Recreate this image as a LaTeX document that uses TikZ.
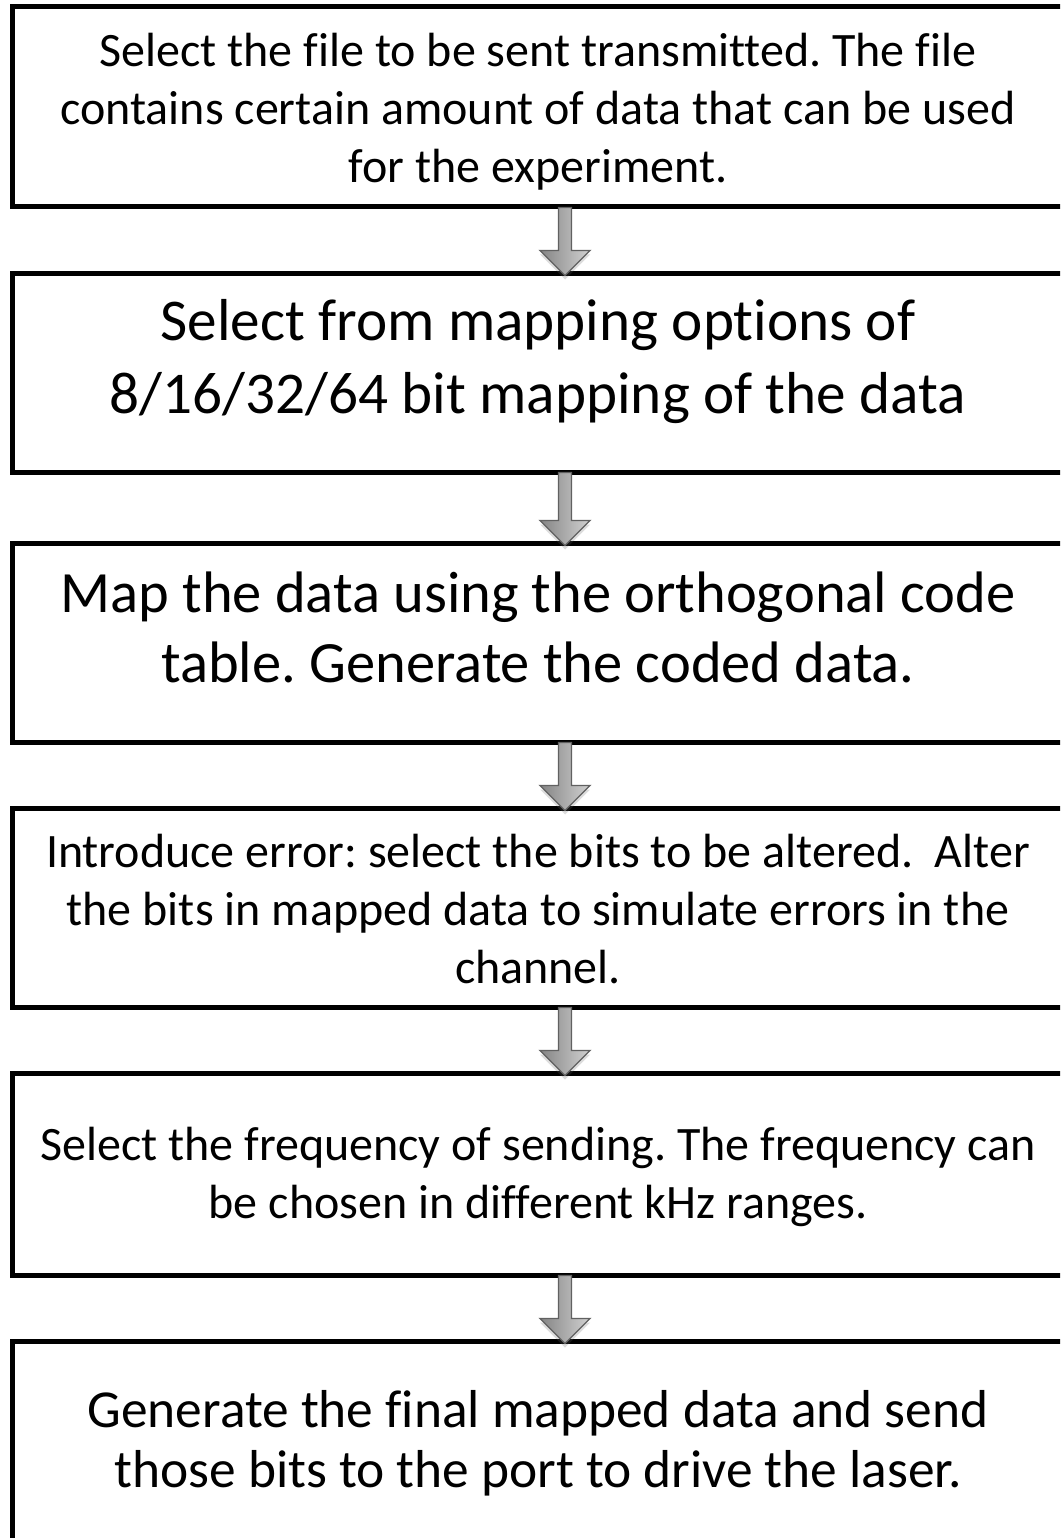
\documentclass[tikz,border=0pt]{standalone}
\usepackage{fontspec}
\setmainfont{Carlito}[Ligatures=NoCommon]
\usetikzlibrary{calc,shadows}
\tikzset{
  flowbox/.style={draw=black, line width=5pt, fill=white, minimum width=1052pt, inner sep=0pt},
  txt/.style={align=center, inner sep=0pt, text=black},
  fatarrow/.style={draw=black!62, line width=1.3pt, line join=miter,
    left color=black!48, right color=black!18,
    drop shadow={shadow xshift=0pt, shadow yshift=-4pt, opacity=0.22, fill=black!60}},
}
\newcommand\flowarrow[2]{%
  \path let \p1=(#1.south), \p2=(#2.north) in
    [fatarrow] (\x1+20.5pt,\y1+2pt) -- (\x1+33.5pt,\y1+2pt) -- (\x1+33.5pt,\y2+20pt)
    -- (\x1+52pt,\y2+20pt) -- (\x1+27pt,\y2-5pt) -- (\x1+2pt,\y2+20pt)
    -- (\x1+20.5pt,\y2+20pt) -- cycle;}
\begin{document}
\frenchspacing
\begin{tikzpicture}[x=1pt,y=-1pt]
\useasboundingbox (0,0) rectangle (1060,1538);
\clip (0,0) rectangle (1060,1538);
\fill[white] (0,0) rectangle (1060,1538);
% boxes
\node[flowbox, minimum height=200pt] (b1) at (538,107) {};
\node[flowbox, minimum height=199pt] (b2) at (538,372.5) {};
\node[flowbox, minimum height=199pt] (b3) at (538,642.5) {};
\node[flowbox, minimum height=199pt] (b4) at (538,907.5) {};
\node[flowbox, minimum height=202pt] (b5) at (538,1174) {};
\node[flowbox, minimum height=220pt] (b6) at (538,1451) {};
% texts
\node[txt, font=\frenchspacing\fontsize{48}{58}\selectfont] (t1) at (538,112)
  {Select the file to be sent transmitted. The file\\contains certain amount of data that can be used\\for the experiment.};
\node[txt, font=\frenchspacing\fontsize{59.2}{73}\selectfont] (t2) at (538,362)
  {Select from mapping options of\\8/16/32/64 bit mapping of the data};
\node[txt, font=\frenchspacing\fontsize{58.5}{70}\selectfont] (t3) at (538,627)
  {Map the data using the orthogonal code\\table. Generate the coded data.};
\node[txt, font=\frenchspacing\fontsize{48}{58}\selectfont] (t4) at (538,909)
  {Introduce error: select the bits to be altered.\ \ Alter\\the bits in mapped data to simulate errors in the\\channel.};
\node[txt, font=\frenchspacing\fontsize{48}{58}\selectfont] (t5) at (538,1177)
  {Select the frequency of sending. The frequency can\\be chosen in different kHz ranges.};
\node[txt, font=\frenchspacing\fontsize{53.4}{60}\selectfont] (t6) at (538,1443)
  {Generate the final mapped data and send\\those bits to the port to drive the laser.};
% arrows
\flowarrow{b1}{b2}
\flowarrow{b2}{b3}
\flowarrow{b3}{b4}
\flowarrow{b4}{b5}
\flowarrow{b5}{b6}
\end{tikzpicture}
\end{document}
